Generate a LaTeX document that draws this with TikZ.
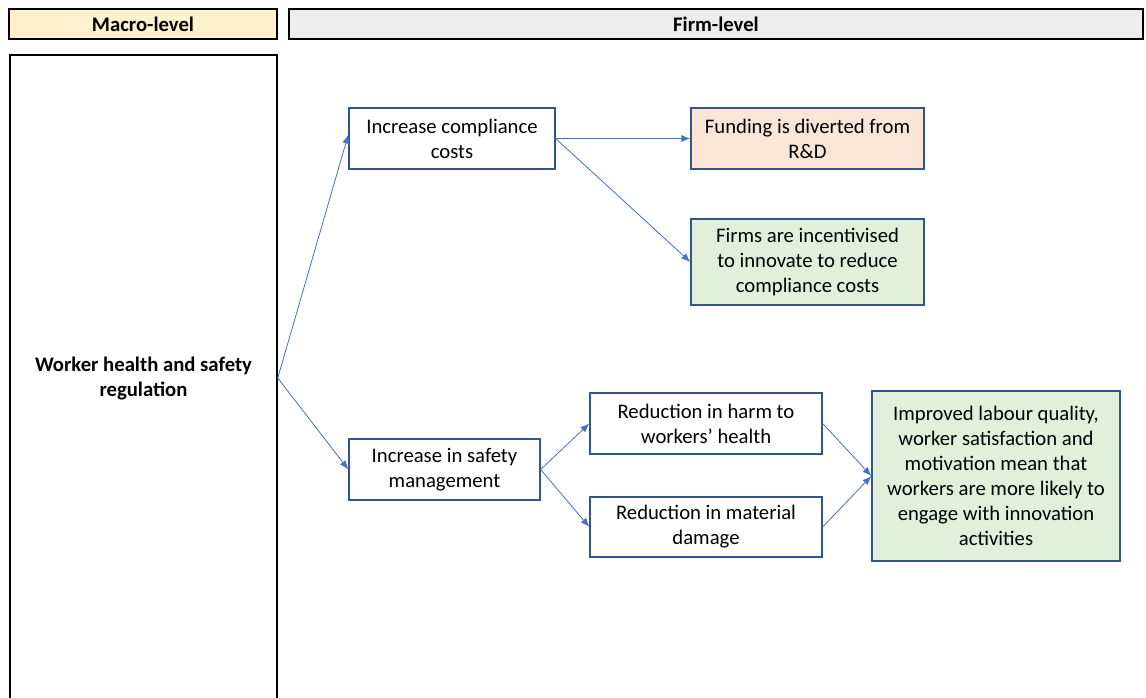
\documentclass[tikz,border=0pt]{standalone}
\usepackage{fontspec}
\setmainfont{Carlito}
\usetikzlibrary{arrows.meta}
\definecolor{boxblue}{HTML}{2F5597}
\definecolor{arrowblue}{HTML}{4472C4}
\definecolor{macrofill}{HTML}{FFF2CC}
\definecolor{firmfill}{HTML}{EDEDED}
\definecolor{peach}{HTML}{FBE5D6}
\definecolor{mint}{HTML}{E2F0D9}
\begin{document}
\begin{tikzpicture}[x=1pt,y=-1pt,
  every node/.style={font=\fontsize{20.7}{25}\selectfont, align=center, inner sep=0pt},
  header/.style={draw=black, line width=1.3pt, font=\fontsize{20.7}{25}\selectfont\bfseries},
  stepbox/.style={draw=boxblue, line width=1.3pt, fill=white},
  link/.style={draw=arrowblue, line width=0.8pt, -{Latex[length=9pt,width=7pt]}}
]
\useasboundingbox (0,0) rectangle (1146,697);
\fill[white] (0,0) rectangle (1146,697);

% column headers
\node[header, fill=macrofill, minimum width=268, minimum height=30] (macro) at (143,24) {Macro-level};
\node[header, fill=firmfill, minimum width=854, minimum height=30] (firm) at (716,24) {Firm-level};

% macro-level box (runs off the bottom edge)
\node[draw=black, line width=1.5pt, minimum width=267, minimum height=646,
      font=\fontsize{20.7}{25}\selectfont\bfseries] (reg) at (143.5,378)
  {Worker health and safety\\regulation};

% firm-level steps
\node[stepbox, minimum width=206, minimum height=61] (comp) at (452,138.5)
  {Increase compliance\\costs};
\node[stepbox, fill=peach, minimum width=233, minimum height=61] (fund) at (807.5,138.5)
  {Funding is diverted from\\R\&D};
\node[stepbox, fill=mint, minimum width=233, minimum height=86] (incent) at (807.5,262)
  {Firms are incentivised\\to innovate to reduce\\compliance costs};
\node[stepbox, minimum width=191, minimum height=61] (safety) at (444.5,469.5)
  {Increase in safety\\management};
\node[stepbox, minimum width=232, minimum height=61] (harm) at (706,423.5)
  {Reduction in harm to\\workers’ health};
\node[stepbox, minimum width=232, minimum height=60] (damage) at (706,527)
  {Reduction in material\\damage};
\node[stepbox, fill=mint, minimum width=248, minimum height=170] (labour) at (996,476)
  {Improved labour quality,\\worker satisfaction and\\motivation mean that\\workers are more likely to\\engage with innovation\\activities};

% connectors
\draw[link] (reg.east) -- ([yshift=4]comp.west);
\draw[link] (reg.east) -- (safety.west);
\draw[link] (comp.east) -- (fund.west);
\draw[link] (comp.east) -- (incent.west);
\draw[link] (safety.east) -- (harm.west);
\draw[link] (safety.east) -- (damage.west);
\draw[link] (harm.east) -- (labour.west);
\draw[link] (damage.east) -- (labour.west);
\end{tikzpicture}
\end{document}
